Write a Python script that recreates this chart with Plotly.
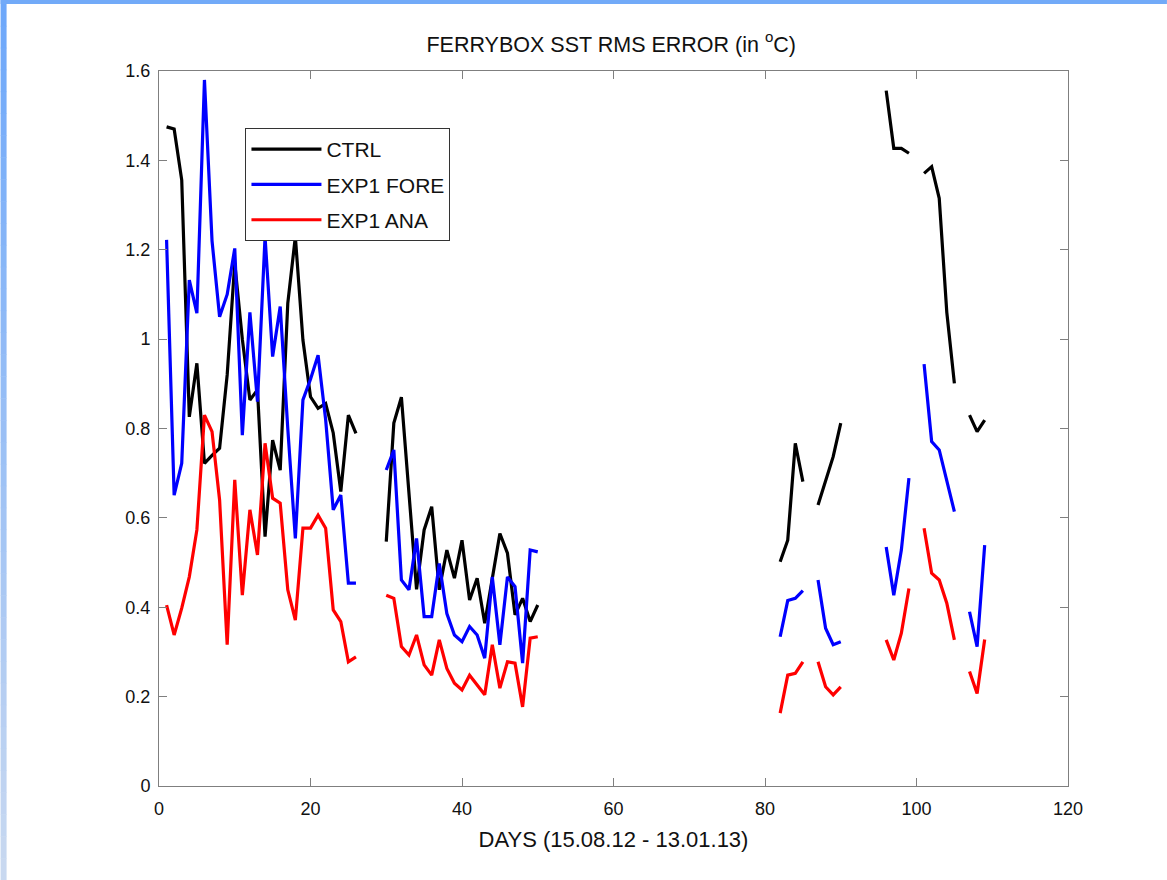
import plotly.graph_objects as go

# Day numbers (None marks a gap in the record)
days = [1, 2, 3, 4, 5, 6, 7, 8, 9, 10, 11, 12, 13, 14, 15, 16, 17, 18, 19, 20, 21, 22, 23, 24, 25, 26,
        None,
        30, 31, 32, 33, 34, 35, 36, 37, 38, 39, 40, 41, 42, 43, 44, 45, 46, 47, 48, 49, 50,
        None,
        82, 83, 84, 85,
        None,
        87, 88, 89, 90,
        None,
        96, 97, 98, 99,
        None,
        101, 102, 103, 104, 105,
        None,
        107, 108, 109]

ctrl = [1.475, 1.470, 1.356, 0.826, 0.946, 0.722, 0.740, 0.756, 0.920, 1.170, 1.000, 0.864, 0.886,
        0.558, 0.774, 0.707, 1.080, 1.229, 0.998, 0.871, 0.845, 0.856, 0.790, 0.659, 0.830, 0.789,
        None,
        0.547, 0.812, 0.870, 0.655, 0.440, 0.573, 0.625, 0.439, 0.528, 0.465, 0.550, 0.416, 0.465,
        0.364, 0.468, 0.565, 0.521, 0.383, 0.420, 0.368, 0.405,
        None,
        0.502, 0.550, 0.767, 0.681,
        None,
        0.629, 0.683, 0.737, 0.812,
        None,
        1.556, 1.427, 1.427, 1.416,
        None,
        1.371, 1.386, 1.315, 1.060, 0.901,
        None,
        0.830, 0.793, 0.819]

exp1_fore = [1.222, 0.651, 0.722, 1.132, 1.058, 1.580, 1.220, 1.050, 1.100, 1.203, 0.785, 1.060, 0.860,
             1.229, 0.961, 1.073, 0.800, 0.554, 0.864, 0.910, 0.964, 0.820, 0.618, 0.651, 0.454, 0.454,
             None,
             0.707, 0.752, 0.461, 0.439, 0.554, 0.379, 0.379, 0.498, 0.386, 0.338, 0.323, 0.357, 0.338,
             0.286, 0.468, 0.316, 0.468, 0.446, 0.275, 0.528, 0.524,
             None,
             0.334, 0.415, 0.420, 0.437,
             None,
             0.461, 0.353, 0.316, 0.323,
             None,
             0.535, 0.427, 0.528, 0.689,
             None,
             0.944, 0.771, 0.752, 0.685, 0.614,
             None,
             0.390, 0.312, 0.539]

exp1_ana = [0.405, 0.338, 0.398, 0.468, 0.573, 0.830, 0.793, 0.640, 0.316, 0.685, 0.427, 0.618, 0.517,
            0.767, 0.644, 0.633, 0.439, 0.371, 0.577, 0.577, 0.606, 0.577, 0.394, 0.368, 0.278, 0.289,
            None,
            0.427, 0.420, 0.312, 0.293, 0.338, 0.271, 0.248, 0.327, 0.263, 0.230, 0.215, 0.248, 0.226,
            0.204, 0.316, 0.219, 0.278, 0.275, 0.177, 0.331, 0.334,
            None,
            0.163, 0.248, 0.252, 0.278,
            None,
            0.278, 0.222, 0.204, 0.222,
            None,
            0.327, 0.282, 0.342, 0.442,
            None,
            0.577, 0.476, 0.461, 0.409, 0.327,
            None,
            0.256, 0.207, 0.328]

series_names = ["CTRL", "EXP1 FORE", "EXP1 ANA"]
series_colors = ["#000000", "#0000ff", "#ff0000"]
series_values = [ctrl, exp1_fore, exp1_ana]

x_ticks = [0, 20, 40, 60, 80, 100, 120]
y_ticks = [0, 0.2, 0.4, 0.6, 0.8, 1.0, 1.2, 1.4, 1.6]

FONT = "Liberation Sans, Arial, Helvetica, sans-serif"

fig = go.Figure()
for name, color, vals in zip(series_names, series_colors, series_values):
    fig.add_trace(go.Scatter(
        x=days, y=vals, mode="lines", name=name, legendgroup=name,
        line=dict(color=color, width=3.2), connectgaps=False,
    ))

W, H = 1167, 880
L, R, T, B = 158.5, 1068, 71, 786
plot_w = R - L
plot_h = B - T

def px_to_paper_x(px):
    return (px - L) / plot_w

def px_to_paper_y(py):
    return (B - py) / plot_h

shapes = []
# top blue band
shapes.append(dict(type="rect", xref="paper", yref="paper", layer="below",
                   x0=px_to_paper_x(0), x1=px_to_paper_x(W), y0=px_to_paper_y(4), y1=px_to_paper_y(0),
                   fillcolor="#72aaf8", line=dict(width=0)))
# left blue band with vertical gradient
n = 40
c_top = (110, 168, 250)
c_bot = (200, 216, 240)
for i in range(n):
    t = i / (n - 1)
    c = tuple(int(round(c_top[k] + (c_bot[k] - c_top[k]) * t)) for k in range(3))
    y0 = 4 + (H - 4) * i / n
    y1 = 4 + (H - 4) * (i + 1) / n
    shapes.append(dict(type="rect", xref="paper", yref="paper", layer="below",
                       x0=px_to_paper_x(0), x1=px_to_paper_x(6),
                       y0=px_to_paper_y(y1 + 0.5), y1=px_to_paper_y(y0),
                       fillcolor="rgb(%d,%d,%d)" % c, line=dict(width=0)))
shapes.append(dict(type="rect", xref="paper", yref="paper", layer="below",
                   x0=px_to_paper_x(0), x1=px_to_paper_x(6), y0=px_to_paper_y(4), y1=px_to_paper_y(0),
                   fillcolor="#72aaf8", line=dict(width=0)))

axis_common = dict(
    showline=True, linecolor="#7f7f7f", linewidth=1, mirror="ticks",
    ticks="inside", ticklen=8, tickcolor="#7f7f7f", tickwidth=1,
    showgrid=False, zeroline=False,
    tickfont=dict(family=FONT, size=18, color="#111111"),
)

fig.update_layout(
    width=W, height=H,
    margin=dict(l=L, r=W - R, t=T, b=H - B, pad=0),
    paper_bgcolor="white", plot_bgcolor="white",
    font=dict(family=FONT, size=18, color="#111111"),
    title=dict(text="FERRYBOX SST RMS ERROR (in <sup>o</sup>C)", x=px_to_paper_x(611), xref="paper",
               xanchor="center", y=1 - 44 / H, yanchor="middle",
               font=dict(family=FONT, size=21.5, color="#111111")),
    xaxis=dict(range=[0, 120], tickvals=x_ticks, ticklabelstandoff=6, **axis_common,
               title=dict(text="DAYS (15.08.12 - 13.01.13)", standoff=14,
                          font=dict(family=FONT, size=22, color="#111111"))),
    yaxis=dict(range=[0, 1.6], tickvals=y_ticks, ticklabelstandoff=4, **axis_common),
    showlegend=True,
    legend=dict(x=px_to_paper_x(245), y=px_to_paper_y(128), xanchor="left", yanchor="top",
                bgcolor="white", bordercolor="#333333", borderwidth=1,
                font=dict(family=FONT, size=21, color="#111111"),
                tracegroupgap=5, itemwidth=70),
    shapes=shapes,
)

fig.write_html("out.html")
